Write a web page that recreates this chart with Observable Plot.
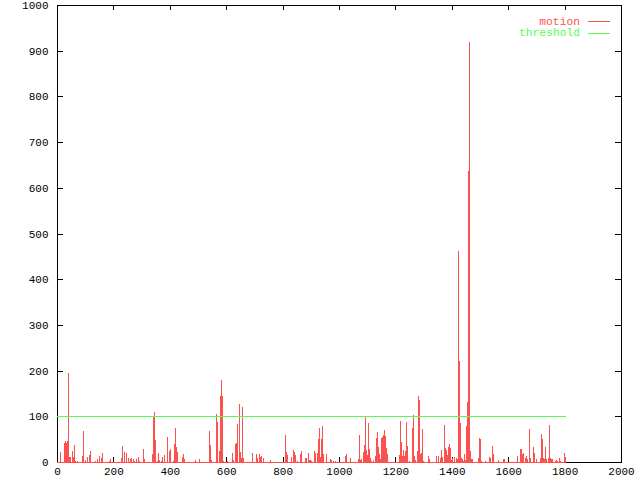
<!DOCTYPE html>
<html><head><meta charset="utf-8">
<script src="https://cdn.jsdelivr.net/npm/d3@7"></script>
<script src="https://cdn.jsdelivr.net/npm/@observablehq/plot@0.6"></script>
<style>body{margin:0;background:#fff}</style>
</head><body><div id="chart"></div>
<script>
const motionX = [0,12,25,28,32,35,39,43,46,53,57,60,64,71,89,92,99,107,112,115,118,136,143,150,156,161,186,189,
226,232,236,239,246,252,259,264,268,274,281,287,292,306,310,338,342,345,349,353,358,363,369,373,380,389,391,396,401,
413,416,420,423,427,443,446,450,491,504,539,543,547,563,566,574,578,582,585,590,602,622,625,632,636,639,644,648,652,657,661,
693,707,710,717,721,725,732,756,810,813,817,831,838,842,845,852,863,866,881,884,891,895,898,902,912,916,923,927,930,934,937,941,944,955,969,973,980,987,
1022,1026,1040,1068,1072,1076,1079,1086,1090,1093,1097,1100,1104,1107,1111,1115,1122,1129,1132,1136,1139,1143,1146,1150,1154,1157,1161,1164,1168,1171,
1214,1217,1221,1224,1228,1232,1235,1239,1242,1249,1260,1264,1267,1271,1278,1281,1285,1288,1292,1295,1299,1317,1320,1345,1352,
1358,1362,1365,1372,1376,1379,1383,1387,1390,1394,1397,1401,1408,1415,1418,1422,1426,1429,1433,1436,1440,1443,1447,1450,1454,1457,1461,1465,1468,1472,
1493,1496,1500,1504,1518,1532,1535,1543,1546,1564,1582,1585,1631,1642,1645,1649,1652,1660,1663,1667,1674,1677,1688,1691,1699,
1713,1716,1720,1723,1727,1730,1734,1741,1745,1748,1752,1755,1766,1770,1773,1780,1784,1798,1801];
const motionY = [0,22,42,46,42,46,195,10,12,24,10,37,3,2,13,68,5,12,10,15,24,3,7,13,9,20,3,6,
9,35,22,18,19,8,7,9,7,3,7,11,2,28,7,18,98,109,49,2,20,4,3,11,15,2,55,24,29,
3,40,74,33,22,12,17,7,4,7,68,37,4,105,87,24,144,179,144,3,3,20,4,39,42,83,127,22,8,120,9,
20,18,9,18,11,13,9,4,59,22,15,11,26,22,15,3,18,24,9,9,20,4,4,2,24,20,20,50,74,11,50,79,18,18,7,4,2,2,
13,18,9,7,59,4,7,22,37,98,26,15,85,28,9,2,4,13,52,66,33,18,7,52,55,59,70,57,31,18,
15,90,44,13,26,13,24,87,35,2,74,103,13,4,24,144,136,18,20,72,2,13,7,13,13,
9,26,11,81,31,26,15,33,39,31,4,9,11,9,7,462,221,85,9,7,2,18,4,79,131,636,918,24,7,7,
9,52,50,2,2,11,9,35,18,4,7,7,13,28,28,18,20,9,13,7,72,9,33,20,7,
9,61,50,9,7,33,7,9,81,9,7,7,2,4,3,9,2,20,11];
const thresholdX = [0, 1801];
const thresholdY = [100, 100];
const xTicks = [0,200,400,600,800,1000,1200,1400,1600,1800,2000];
const yTicks = [0,100,200,300,400,500,600,700,800,900,1000];
const seriesNames = ["motion", "threshold"];
const seriesColors = ["#ff5050", "#50ff50"];

const motion = motionX.map((x, i) => ({x, y: motionY[i]}));
const threshold = thresholdX.map((x, i) => ({x, y: thresholdY[i]}));

const W = 640, H = 480, mL = 57, mR = 19, mT = 5, mB = 18;
const pw = W - mL - mR, ph = H - mT - mB;
const fmt = d => String(d);

const svg = Plot.plot({
  width: W, height: H,
  marginLeft: mL, marginRight: mR, marginTop: mT, marginBottom: mB,
  style: {fontFamily: "'Liberation Mono', 'DejaVu Sans Mono', monospace", fontSize: "11px", background: "white", color: "black"},
  x: {domain: [0, 2000]},
  y: {domain: [0, 1000]},
  marks: [
    Plot.frame({stroke: "black", shapeRendering: "crispEdges"}),
    Plot.ruleY(yTicks, {y: d => d, insetRight: pw - 6, stroke: "black", shapeRendering: "crispEdges"}),
    Plot.ruleY(yTicks, {y: d => d, insetLeft: pw - 6, stroke: "black", shapeRendering: "crispEdges"}),
    Plot.ruleX(xTicks, {x: d => d, insetTop: ph - 5, stroke: "black", shapeRendering: "crispEdges"}),
    Plot.ruleX(xTicks, {x: d => d, insetBottom: ph - 5, stroke: "black", shapeRendering: "crispEdges"}),
    Plot.axisY(yTicks, {tickSize: 0, tickPadding: 9, label: null, fontSize: 11, tickFormat: fmt}),
    Plot.axisX(xTicks, {tickSize: 0, tickPadding: 5, label: null, fontSize: 11, tickFormat: fmt}),
    Plot.line(motion, {x: "x", y: () => 0, stroke: seriesColors[0], strokeWidth: 1, shapeRendering: "crispEdges"}),
    Plot.ruleX(motion, {x: "x", y: "y", stroke: seriesColors[0], strokeWidth: 1, shapeRendering: "crispEdges"}),
    Plot.line(threshold, {x: "x", y: "y", stroke: seriesColors[1], strokeWidth: 1, shapeRendering: "crispEdges"})
  ]
});

const sel = d3.select(svg);
const leg = sel.append("g").attr("font-family", "'Liberation Mono', 'DejaVu Sans Mono', monospace").attr("font-size", "11.3px");
seriesNames.forEach((name, i) => {
  const yy = 21 + i * 11.5;
  leg.append("text").attr("x", 580).attr("y", yy).attr("dy", "0.35em").attr("text-anchor", "end")
    .style("fill", seriesColors[i]).text(name);
  leg.append("line").attr("x1", 588).attr("x2", 610).attr("y1", Math.round(yy) + 0.5).attr("y2", Math.round(yy) + 0.5)
    .style("stroke", seriesColors[i]).style("stroke-width", "1px");
});

document.getElementById("chart").appendChild(svg);
</script>
</body></html>
